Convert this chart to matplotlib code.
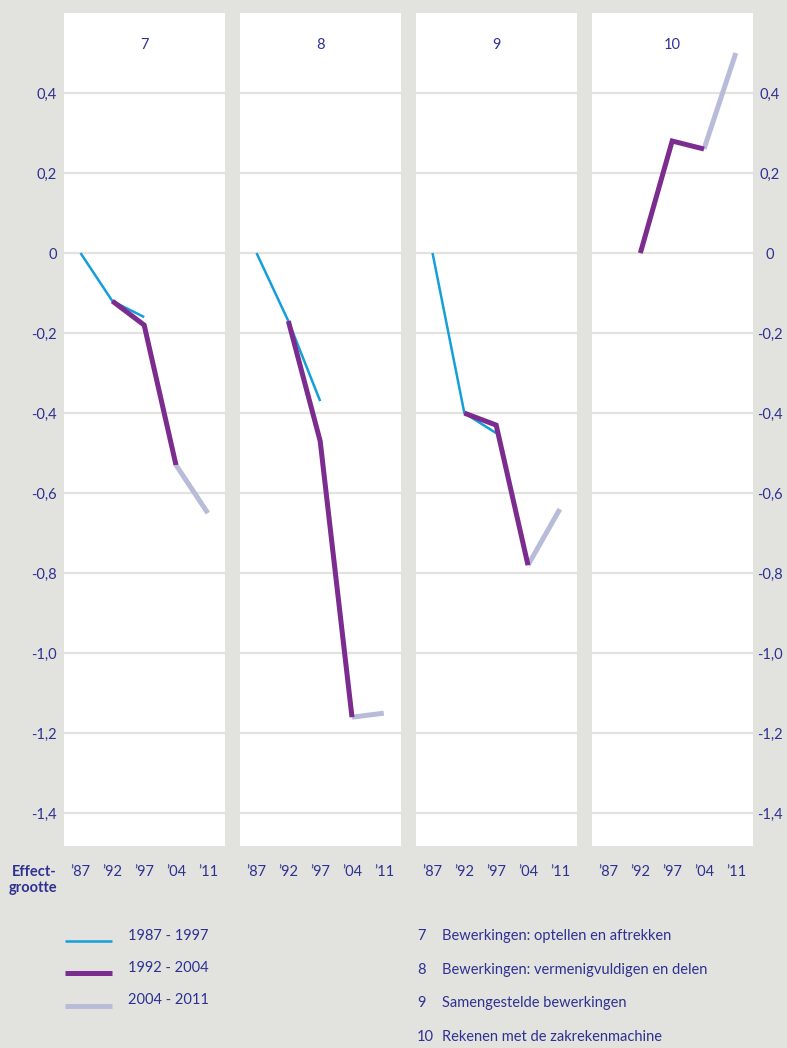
import numpy as np
import matplotlib.pyplot as plt
from matplotlib.lines import Line2D

plt.rcParams['font.family'] = ['Lato', 'DejaVu Sans']

years = ["’87", "’92", "’97", "’04", "’11"]
panels = ["7", "8", "9", "10"]
panel_names = [
    "Bewerkingen: optellen en aftrekken",
    "Bewerkingen: vermenigvuldigen en delen",
    "Samengestelde bewerkingen",
    "Rekenen met de zakrekenmachine",
]
yticks = [0.4, 0.2, 0, -0.2, -0.4, -0.6, -0.8, -1.0, -1.2, -1.4]
ytick_labels = ["0,4", "0,2", "0", "-0,2", "-0,4", "-0,6", "-0,8", "-1,0", "-1,2", "-1,4"]

nan = np.nan
# effect sizes per period, one row per panel ('87 .. '11)
period_87_97 = [
    [0.0, -0.12, -0.16, nan, nan],
    [0.0, -0.17, -0.37, nan, nan],
    [0.0, -0.40, -0.45, nan, nan],
    [nan, nan, nan, nan, nan],
]
period_92_04 = [
    [nan, -0.12, -0.18, -0.53, nan],
    [nan, -0.17, -0.47, -1.16, nan],
    [nan, -0.40, -0.43, -0.78, nan],
    [nan, 0.0, 0.28, 0.26, nan],
]
period_04_11 = [
    [nan, nan, nan, -0.53, -0.65],
    [nan, nan, nan, -1.16, -1.15],
    [nan, nan, nan, -0.78, -0.64],
    [nan, nan, nan, 0.26, 0.50],
]
series_labels = ["1987 - 1997", "1992 - 2004", "2004 - 2011"]

BG = "#e2e2de"
TXT = "#2e3192"
BLUE = "#149fd9"
PURPLE = "#7c2b8f"
LAV = "#b9bcd9"

W, H = 787, 1048
fig = plt.figure(figsize=(W / 100, H / 100), dpi=100, facecolor=BG)

x = np.arange(len(years))
styles = [
    (period_04_11, LAV, 3.6, 2),
    (period_87_97, BLUE, 1.8, 3),
    (period_92_04, PURPLE, 3.6, 4),
]

axes = []
for i, name in enumerate(panels):
    left = 64 + i * 176
    ax = fig.add_axes([left / W, 1 - 846 / H, 161 / W, 833 / H])
    ax.set_facecolor("white")
    for s in ax.spines.values():
        s.set_visible(False)
    ax.set_xlim(-0.52, 4.54)
    ax.set_ylim(-1.482, 0.6)
    ax.set_yticks(yticks)
    ax.grid(axis="y", color=BG, linewidth=1.6, zorder=1)
    ax.set_axisbelow(True)
    ax.set_xticks(x)
    ax.set_xticklabels(years, color=TXT, fontsize=10.5)
    ax.tick_params(axis="both", length=0)
    ax.tick_params(axis="x", pad=14)

    for data, color, lw, z in styles:
        ax.plot(x, data[i], color=color, lw=lw, zorder=z,
                solid_capstyle="butt", solid_joinstyle="miter")

    ax.text(0.5, 0.962, name, transform=ax.transAxes, ha="center", va="center",
            color=TXT, fontsize=10.5)

    if i == 0:
        ax.set_yticklabels(ytick_labels, color=TXT, fontsize=10.5)
        ax.tick_params(axis="y", pad=5)
    elif i == 3:
        ax.yaxis.tick_right()
        ax.set_yticklabels(ytick_labels, color=TXT, fontsize=10.5)
        ax.tick_params(axis="y", pad=12)
        for lbl in ax.get_yticklabels():
            lbl.set_ha("center")
    else:
        ax.set_yticklabels([])
    axes.append(ax)

fig.text(57 / W, 1 - 880 / H, "Effect-\ngrootte", ha="right", va="center",
         color=TXT, fontsize=10.5, fontweight="bold", linespacing=1.1)

# legend for the periods
legend_rows = [(941, 936, BLUE, 1.8), (973, 968, PURPLE, 3.6), (1006, 1000, LAV, 3.6)]
for (ly, ty, color, lw), label in zip(legend_rows, series_labels):
    fig.add_artist(Line2D([65 / W, 112 / W], [1 - ly / H, 1 - ly / H], color=color,
                          lw=lw, solid_capstyle="butt"))
    fig.text(128 / W, 1 - ty / H, label, ha="left", va="center", color=TXT, fontsize=10.5)

# key for the panel numbers
for j, (num, desc) in enumerate(zip(panels, panel_names)):
    yy = 1 - (936 + j * 33.7) / H
    fig.text(417 / W, yy, num, ha="left", va="center", color=TXT, fontsize=10.5)
    fig.text(442 / W, yy, desc, ha="left", va="center", color=TXT, fontsize=10.5)

fig.savefig("out.png", dpi=100, facecolor=BG)
